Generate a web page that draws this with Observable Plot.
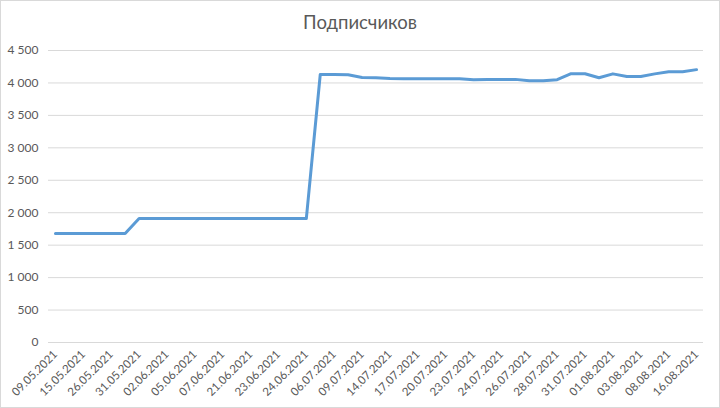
<!DOCTYPE html>
<html>
<head>
<meta charset="utf-8">
<script src="https://cdn.jsdelivr.net/npm/d3@7"></script>
<script src="https://cdn.jsdelivr.net/npm/@observablehq/plot@0.6"></script>
<style>
  html, body { margin: 0; padding: 0; background: #fff; }
  #chart { width: 720px; height: 408px; box-sizing: border-box; border: 1px solid #d9d9d9; overflow: hidden; font-family: Lato, "Open Sans", sans-serif; }
  #title { height: 35px; box-sizing: border-box; padding-top: 10px; text-align: center; font-size: 18.5px; line-height: 22px; color: #595959; }
</style>
</head>
<body>
<div id="chart">
  <div id="title">Подписчиков</div>
</div>
<script>
// Tick labels shown on the category axis (every other category is labelled)
const tickLabels = ["09.05.2021","15.05.2021","26.05.2021","31.05.2021","02.06.2021","05.06.2021","07.06.2021","21.06.2021","23.06.2021","24.06.2021","06.07.2021","09.07.2021","14.07.2021","17.07.2021","20.07.2021","23.07.2021","24.07.2021","26.07.2021","28.07.2021","31.07.2021","01.08.2021","03.08.2021","08.08.2021","16.08.2021"];

// Subscriber counts, one per category (47 categories)
const subscribers = [
  1680,1680,1680,1680,1680,1680,
  1910,1910,1910,1910,1910,1910,1910,1910,1910,1910,1910,1910,1910,
  4130,4130,4125,4085,4080,4068,4066,4066,4066,4066,4066,
  4050,4052,4055,4055,4035,4035,4050,4142,4142,4080,4140,
  4100,4100,4140,4172,4172,4205
];

const yTicks = [0,500,1000,1500,2000,2500,3000,3500,4000,4500];

const data = subscribers.map((v, i) => ({i, v}));
const labelIndex = tickLabels.map((_, k) => k * 2);
const ruLocale = d3.formatLocale({decimal: ",", thousands: "\u00a0", grouping: [3], currency: ["", ""]});
const fmt = ruLocale.format(",");

const chart = Plot.plot({
  width: 718,
  height: 371,
  marginTop: 14,
  marginBottom: 65,
  marginLeft: 47,
  marginRight: 16,
  style: {fontFamily: "Lato, 'Open Sans', sans-serif", fontSize: "12px", color: "#595959", background: "#fff"},
  x: {domain: [-0.5, subscribers.length - 0.5], axis: null, label: null},
  y: {domain: [0, 4500], axis: null, label: null},
  marks: [
    Plot.gridY(yTicks, {stroke: "#d9d9d9", strokeOpacity: 1, strokeWidth: 1}),
    Plot.axisY(yTicks, {tickSize: 0, tickPadding: 10, tickFormat: fmt, fill: "#595959", fontSize: 12, label: null}),
    Plot.axisX(labelIndex, {tickSize: 0, tickPadding: 10, tickRotate: -45, tickFormat: (d) => tickLabels[d / 2], fill: "#595959", fontSize: 11.5, label: null}),
    Plot.line(data, {x: "i", y: "v", stroke: "#5b9bd5", strokeWidth: 3, strokeLinejoin: "round", strokeLinecap: "round"})
  ]
});
document.getElementById("chart").appendChild(chart);
</script>
</body>
</html>
